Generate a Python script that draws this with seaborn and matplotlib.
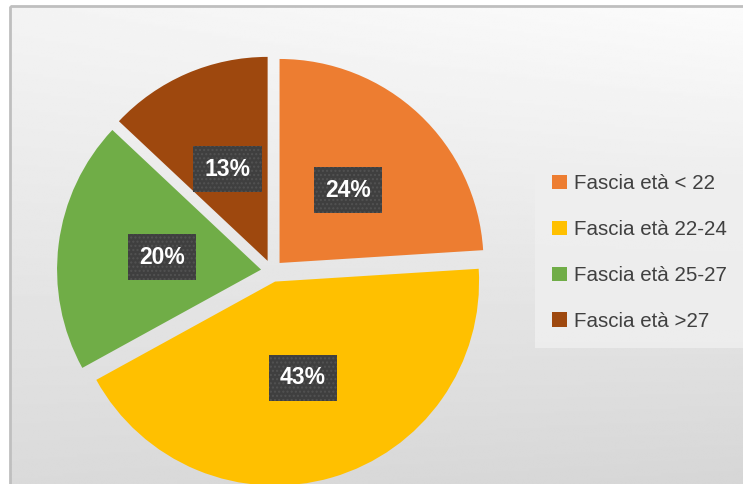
import numpy as np
import matplotlib.pyplot as plt
import matplotlib.patches as mpatches
import seaborn as sns

# data
labels = ['Fascia età < 22', 'Fascia età 22-24', 'Fascia età 25-27', 'Fascia età >27']
values = [24, 43, 20, 13]
colors = ['#ED7D31', '#FFC000', '#70AD47', '#9E480E']

sns.set_theme(style='white')
plt.rcParams['font.family'] = ['Liberation Sans', 'DejaVu Sans']

W, H = 743, 484
fig = plt.figure(figsize=(W / 100, H / 100), dpi=100)
fig.patch.set_facecolor('white')

# background panel with soft gradient and grey frame
bg = fig.add_axes([0, 0, 1, 1], zorder=-5)
bg.set_xlim(0, W)
bg.set_ylim(H, 0)
bg.axis('off')
yy, xx = np.mgrid[0:1:200j, 0:1:300j]
grad = 0.985 - 0.13 * yy - 0.03 * (1 - xx) * (1 - yy) - 0.015 * xx * yy
bg.imshow(grad, cmap='gray', vmin=0, vmax=1, extent=(10, W, H, 6), aspect='auto',
          interpolation='bilinear')
bg.add_patch(mpatches.Rectangle((10, 6), W + 20, H + 20, facecolor='none',
                                edgecolor='#bfbfbf', lw=2))

# pie
R = 204
cx, cy = 272, H - 271
half = 213
ax = fig.add_axes([(cx - half) / W, (cy - half) / H, 2 * half / W, 2 * half / H])
wedges, texts, autotexts = ax.pie(
    values, colors=colors, startangle=90, counterclock=False,
    explode=[0.054] * len(values), autopct='%1.0f%%', pctdistance=0.49,
    wedgeprops=dict(linewidth=0),
)
ax.set_xlim(-half / R, half / R)
ax.set_ylim(-half / R, half / R)
ax.set_aspect('equal')
ax.axis('off')

for t in autotexts:
    t.set_color('white')
    t.set_fontsize(16.5)
    t.set_fontweight('bold')
    t.set_bbox(dict(boxstyle='square,pad=0.5', facecolor='#3f3f3f',
                    edgecolor='#525252', hatch='....', linewidth=0))

handles = [mpatches.Patch(facecolor=c, edgecolor='none') for c in colors]
leg = fig.legend(handles, labels, loc='upper left',
                 bbox_to_anchor=(535 / W, 1 - 157 / H), borderaxespad=0,
                 frameon=True, facecolor='#efefef', edgecolor='none', framealpha=0.85,
                 fancybox=False, fontsize=14.8, handlelength=0.7, handleheight=0.7,
                 handletextpad=0.35, labelspacing=1.3, borderpad=0.85,
                 labelcolor='#404040')

fig.savefig('out.png', dpi=100)
